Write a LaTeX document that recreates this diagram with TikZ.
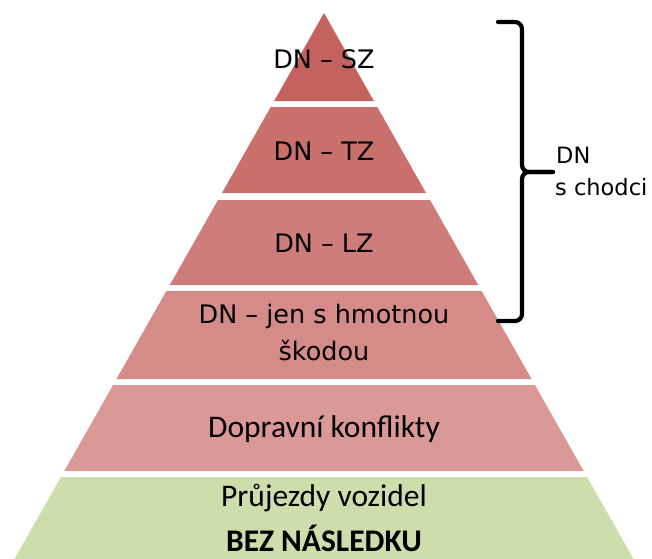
\documentclass[tikz,border=0pt]{standalone}
\usepackage{fontspec}
\setmainfont{DejaVu Sans}
\newfontfamily\calfont{Carlito}

% fills of the pyramid levels, darkest at the top
\definecolor{lvA}{HTML}{C4625F}
\definecolor{lvB}{HTML}{C9706D}
\definecolor{lvC}{HTML}{CF7D7A}
\definecolor{lvD}{HTML}{D58B88}
\definecolor{lvE}{HTML}{DA9896}
\definecolor{lvF}{HTML}{CEDDAC}

\begin{document}
\begin{tikzpicture}[x=1pt,y=-1pt,
  lbl/.style={font=\fontsize{25.5}{30}\selectfont, anchor=base, inner sep=0pt},
  cal/.style={font=\calfont\fontsize{31.5}{36}\selectfont, anchor=base, inner sep=0pt},
  calb/.style={font=\calfont\bfseries\fontsize{31.5}{36}\selectfont, anchor=base, inner sep=0pt, text depth=0pt},
  side/.style={font=\fontsize{22.5}{28}\selectfont, anchor=base west, inner sep=0pt},
  brace/.style={line width=4.2pt, rounded corners=7pt, line cap=round}]

\useasboundingbox (0,0) rectangle (652,558);
\clip (0,0) rectangle (652,558);

% half width of the pyramid at height y
\def\cx{324}
\def\ay{13}
\def\sl{0.567}
\newcommand{\level}[3]{%
  \fill[#3] ({\cx-\sl*(#1-\ay)},#1) -- ({\cx+\sl*(#1-\ay)},#1)
    -- ({\cx+\sl*(#2-\ay)},#2) -- ({\cx-\sl*(#2-\ay)},#2) -- cycle;}

\fill[lvA] (\cx,\ay) -- ({\cx+\sl*(101-\ay)},101) -- ({\cx-\sl*(101-\ay)},101) -- cycle;
\level{107}{193}{lvB}
\level{200}{285}{lvC}
\level{291}{379}{lvD}
\level{385}{471}{lvE}
\level{477}{575}{lvF}

% level labels
\node[lbl] (sz) at (324,68) {DN – SZ};
\node[lbl] (tz) at (324,160) {DN – TZ};
\node[lbl] (lz) at (324,252) {DN – LZ};
\node[lbl] (hs1) at (324,323) {DN – jen s hmotnou};
\node[lbl] (hs2) at (324,360) {škodou};
\node[cal] (dk) at (324,437) {Dopravní konflikty};
\node[cal] (pv) at (324,506) {Průjezdy vozidel};
\node[calb] (bn) at (324,551) {BEZ NÁSLEDKU};

% bracket grouping the upper four levels
\coordinate (bt) at (498,22);
\coordinate (bb) at (498,321);
\coordinate (bm) at (553,172);
\draw[brace] (bt) -- (522,22) -- (522,172) -- (bm);
\draw[brace] (bb) -- (522,321) -- (522,172) -- (bm);

\node[side] (g1) at (556,163) {DN};
\node[side] (g2) at (555,195) {s chodci};
\end{tikzpicture}
\end{document}
